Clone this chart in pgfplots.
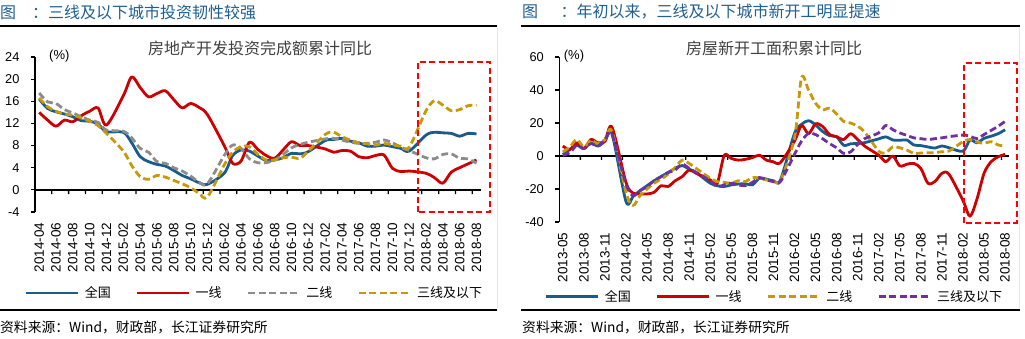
\documentclass[border=0pt]{standalone}
\usepackage{pgfplots}
\pgfplotsset{compat=1.18}
\usepackage{pgfplotstable}
\usepackage{fontspec}
\setmainfont{Liberation Sans}
\newfontfamily\cjk{Noto Sans CJK SC}

\definecolor{cjblue}{RGB}{24,92,142}
\definecolor{cjred}{RGB}{204,0,0}
\definecolor{cjgray}{RGB}{140,140,140}
\definecolor{cjgold}{RGB}{200,152,8}
\definecolor{cjpurple}{RGB}{112,48,160}
\definecolor{headblue}{RGB}{31,96,145}
\definecolor{boxred}{RGB}{255,0,0}
\definecolor{titlegray}{RGB}{64,64,64}

% left chart: months since 2014-04 (January not published)
\pgfplotstableread{
i qg yx ex sx
0 16.4 14.0 17.5 16.6
1 14.7 12.6 15.9 15.0
2 14.1 11.5 15.6 14.2
3 13.7 12.6 14.5 13.7
4 13.2 12.3 13.9 13.5
5 12.5 13.4 13.2 13.0
6 12.4 14.2 12.6 12.4
7 11.9 14.8 12.2 11.6
8 10.5 11.7 10.8 10.2
10 10.4 17.0 10.6 7.0
11 8.5 20.4 9.4 4.4
12 6.0 18.5 7.5 2.4
13 5.1 16.8 6.8 1.9
14 4.6 17.4 5.1 2.6
15 4.3 17.9 4.8 2.3
16 3.5 16.3 4.0 1.7
17 2.6 14.8 3.4 1.1
18 2.0 15.6 2.5 0.4
19 1.3 14.9 1.4 -0.6
20 1.0 13.6 1.1 -1.3
22 3.0 8.0 6.2 4.5
23 6.2 4.8 8.1 6.8
24 7.2 5.2 7.5 7.8
25 7.0 8.6 5.6 7.8
26 6.1 7.3 4.9 6.4
27 5.3 6.2 4.9 5.4
28 5.4 5.7 5.4 5.4
29 5.8 7.2 6.4 5.8
30 6.6 8.7 7.6 5.9
31 6.5 8.0 8.2 5.7
32 6.9 8.0 8.6 7.0
34 8.9 7.4 9.2 10.0
35 9.1 6.8 9.3 10.4
36 9.3 7.1 9.0 9.6
37 8.8 7.0 8.6 9.0
38 8.5 6.0 8.4 8.5
39 7.9 5.8 8.4 8.3
40 7.9 6.2 8.6 8.1
41 8.1 6.3 9.0 8.4
42 7.8 3.9 8.5 8.1
43 7.5 3.3 7.7 7.9
44 7.0 3.4 7.1 7.7
46 9.9 3.0 5.8 14.3
47 10.4 2.2 5.6 16.1
48 10.3 1.2 6.4 15.3
49 10.2 3.2 6.5 14.3
50 9.7 4.0 5.7 14.5
51 10.2 4.7 5.6 15.2
52 10.1 5.4 4.8 15.3
}\leftdata

% right chart: months since 2013-05 (January not published)
\pgfplotstableread{
i qg yx ex sx
0 1.0 6.0 2.5 0.5
1 3.9 4.0 5.5 2.0
2 6.5 8.0 10.0 6.5
3 4.5 4.5 5.5 4.5
4 8.0 10.0 9.5 7.5
5 6.0 8.0 7.5 6.0
6 9.0 9.0 10.0 10.0
7 13.5 17.5 15.0 13.0
9 -27.6 -16.0 -22.0 -17.0
10 -24.5 -22.5 -30.0 -24.0
11 -21.0 -23.0 -24.0 -21.0
12 -18.0 -23.0 -20.0 -18.5
13 -15.0 -22.0 -16.5 -15.0
14 -12.5 -18.0 -14.0 -12.5
15 -10.0 -18.5 -11.0 -10.0
16 -7.5 -15.0 -7.0 -8.5
17 -5.8 -12.5 -2.5 -5.0
18 -8.0 -8.5 -4.5 -7.5
19 -10.0 -10.5 -7.5 -10.0
21 -16.5 -14.5 -13.5 -15.0
22 -18.0 -16.5 -15.5 -18.5
23 -18.5 0.5 -16.0 -17.5
24 -17.5 -1.5 -16.5 -16.5
25 -17.0 -2.5 -15.0 -17.5
26 -16.8 -2.0 -15.5 -18.0
27 -17.5 -1.0 -13.0 -16.0
28 -13.5 0.5 -13.5 -13.0
29 -14.0 -2.5 -14.5 -14.5
30 -15.0 -3.5 -15.0 -15.5
31 -14.5 -4.0 -15.0 -15.5
33 13.7 9.0 11.0 1.0
34 19.2 18.5 47.5 9.0
35 21.4 13.5 40.0 13.7
36 18.9 19.5 32.0 13.0
37 14.9 18.0 28.0 10.5
38 12.3 13.0 29.0 7.5
39 11.7 11.7 25.5 5.0
40 6.5 10.0 21.0 1.6
41 7.4 13.5 20.0 2.5
42 7.6 10.0 18.0 7.0
43 8.1 6.0 14.5 10.5
45 10.4 0.5 3.0 14.0
46 11.6 -3.5 2.0 18.5
47 9.7 0.0 5.5 16.0
48 9.5 -6.0 5.0 14.0
49 9.7 -5.0 3.6 12.5
50 6.7 -4.5 1.6 11.0
51 6.3 -7.5 1.8 10.5
52 5.5 -16.5 2.0 10.0
53 4.8 -15.5 2.0 10.5
54 6.1 -10.5 2.6 11.0
55 5.0 -11.0 3.0 11.7
57 2.9 -27.0 8.7 12.7
58 9.7 -36.5 10.0 12.0
59 8.0 -26.0 8.5 10.5
60 10.7 -10.5 7.7 13.0
61 12.0 -3.5 8.7 15.5
62 13.5 -0.5 6.7 18.0
63 15.9 1.0 6.0 21.0
}\rightdata

\pgfplotsset{
  cjbase/.style={
    scale only axis,
    axis lines=left,
    axis line style={-},
    x axis line style={draw=none},
    y axis line style={line width=1.5pt, black},
    tick align=outside,
    major tick length=4pt,
    ytick style={line width=1.2pt, black},
    xtick style={draw=none},
    tick pos=left,
    clip=false,
    xticklabel style={rotate=90, anchor=east, font=\fontsize{13.5}{13.5}\selectfont},
    xticklabel shift=3pt,
    yticklabel style={xshift=-8pt, font=\fontsize{12.8}{12.8}\selectfont},
    legend columns=4,
    legend image code/.code={\draw[##1] (0pt,0pt) -- (52pt,0pt);},
    legend style={draw=none, fill=none, inner sep=0pt, outer sep=0pt,
      font=\cjk\fontsize{13}{13}\selectfont,
      nodes={inner sep=0pt},
      /tikz/every odd column/.style={column sep=5pt},
      /tikz/every even column/.style={column sep=25pt}},
  },
  sline/.style={line width=2.8pt, smooth, tension=0.5, line join=round},
  dline/.style={line width=2.8pt, smooth, tension=0.5, line join=round, dash pattern=on 7pt off 3.5pt},
}

\begin{document}
\begin{tikzpicture}[x=1pt,y=1pt]
\useasboundingbox (0,0) rectangle (1025,-339);

% ---------- headings and frames ----------
\node[anchor=west, inner sep=0pt, text=headblue, font=\cjk\fontsize{16}{16}\selectfont] at (0,-12) {图\hspace{1em}：三线及以下城市投资韧性较强};
\node[anchor=west, inner sep=0pt, text=headblue, font=\cjk\fontsize{16}{16}\selectfont] at (522,-12) {图\hspace{1.4em}：年初以来，三线及以下城市新开工明显提速};
\draw[line width=1.2pt] (0,-26) -- (497,-26);
\draw[line width=1.2pt] (521,-26) -- (1020,-26);
\draw[line width=1.2pt] (0,-310) -- (497,-310);
\draw[line width=1.2pt] (521,-310) -- (1020,-310);
\draw[gray!20, line width=0.8pt] (497,-28) -- (497,-308);
\draw[gray!20, line width=0.8pt] (1019,-28) -- (1019,-308);
\node[anchor=west, inner sep=0pt, font=\cjk\fontsize{13.8}{13.8}\selectfont] at (0,-327) {资料来源：Wind，财政部，长江证券研究所};
\node[anchor=west, inner sep=0pt, font=\cjk\fontsize{13.8}{13.8}\selectfont] at (522,-327) {资料来源：Wind，财政部，长江证券研究所};
\node[text=titlegray, font=\cjk\fontsize{16}{16}\selectfont] at (260,-48) {房地产开发投资完成额累计同比};
\node[text=titlegray, font=\cjk\fontsize{16}{16}\selectfont] at (774,-48) {房屋新开工面积累计同比};
\node[anchor=west, inner sep=0pt, font=\fontsize{13}{13}\selectfont] at (49,-56) {(\%)};
\node[anchor=west, inner sep=0pt, font=\fontsize{13}{13}\selectfont] at (563.7,-56) {(\%)};

% ---------- left chart ----------
\begin{axis}[cjbase,
  at={(35pt,-212pt)}, anchor=south west,
  width=445.7pt, height=155pt,
  xmin=-0.5, xmax=52.5, ymin=-4, ymax=24,
  ytick={-4,0,4,8,12,16,20,24},
  yticklabels={-4,0,4,8,12,16,20,24},
  xtick={0,2,...,52},
  xticklabels={2014-04,2014-06,2014-08,2014-10,2014-12,2015-02,2015-04,2015-06,2015-08,2015-10,2015-12,2016-02,2016-04,2016-06,2016-08,2016-10,2016-12,2017-02,2017-04,2017-06,2017-08,2017-10,2017-12,2018-02,2018-04,2018-06,2018-08},
  legend style={at={(axis description cs:-0.0224,-0.523)}, anchor=west},
]
\addplot[black, line width=1.5pt, forget plot] coordinates {(-0.5,0) (52.5,0)};
\addplot[ybar, bar width=1.3pt, fill=black, draw=none, forget plot] coordinates {(1.5,-0.75) (3.5,-0.75) (5.5,-0.75) (7.5,-0.75) (9.5,-0.75) (11.5,-0.75) (13.5,-0.75) (15.5,-0.75) (17.5,-0.75) (19.5,-0.75) (21.5,-0.75) (23.5,-0.75) (25.5,-0.75) (27.5,-0.75) (29.5,-0.75) (31.5,-0.75) (33.5,-0.75) (35.5,-0.75) (37.5,-0.75) (39.5,-0.75) (41.5,-0.75) (43.5,-0.75) (45.5,-0.75) (47.5,-0.75) (49.5,-0.75) (51.5,-0.75)};
\addplot[cjblue, sline] table[x=i, y=qg] {\leftdata};
\addlegendentry{全国}
\addplot[cjred, sline] table[x=i, y=yx] {\leftdata};
\addlegendentry{一线}
\addplot[cjgray, dline] table[x=i, y=ex] {\leftdata};
\addlegendentry{二线}
\addplot[cjgold, dline] table[x=i, y=sx] {\leftdata};
\addlegendentry{三线及以下}
\draw[boxred, line width=1.8pt, dash pattern=on 6pt off 3.5pt] (axis cs:45,-4) rectangle (axis cs:53.6,23.1);
\end{axis}

% ---------- right chart ----------
\begin{axis}[cjbase,
  at={(559.3pt,-222pt)}, anchor=south west,
  width=449.3pt, height=165pt,
  xmin=-0.5, xmax=63.5, ymin=-40, ymax=60,
  ytick={-40,-20,0,20,40,60},
  yticklabels={-40,-20,0,20,40,60},
  xtick={0,3,...,63},
  xticklabels={2013-05,2013-08,2013-11,2014-02,2014-05,2014-08,2014-11,2015-02,2015-05,2015-08,2015-11,2016-02,2016-05,2016-08,2016-11,2017-02,2017-05,2017-08,2017-11,2018-02,2018-05,2018-08},
  legend style={at={(axis description cs:-0.0318,-0.4527)}, anchor=west},
]
\addplot[black, line width=1.5pt, forget plot] coordinates {(-0.5,0) (63.5,0)};
\addplot[ybar, bar width=1.3pt, fill=black, draw=none, forget plot] coordinates {(2.5,-2.4) (5.5,-2.4) (8.5,-2.4) (11.5,-2.4) (14.5,-2.4) (17.5,-2.4) (20.5,-2.4) (23.5,-2.4) (26.5,-2.4) (29.5,-2.4) (32.5,-2.4) (35.5,-2.4) (38.5,-2.4) (41.5,-2.4) (44.5,-2.4) (47.5,-2.4) (50.5,-2.4) (53.5,-2.4) (56.5,-2.4) (59.5,-2.4) (62.5,-2.4)};
\addplot[cjblue, sline] table[x=i, y=qg] {\rightdata};
\addlegendentry{全国}
\addplot[cjred, sline] table[x=i, y=yx] {\rightdata};
\addlegendentry{一线}
\addplot[cjgold, dline] table[x=i, y=ex] {\rightdata};
\addlegendentry{二线}
\addplot[cjpurple, dline] table[x=i, y=sx] {\rightdata};
\addlegendentry{三线及以下}
\draw[boxred, line width=1.8pt, dash pattern=on 6pt off 3.5pt] (axis cs:57.15,-40.4) rectangle (axis cs:64.7,56.5);
\end{axis}
\end{tikzpicture}
\end{document}
